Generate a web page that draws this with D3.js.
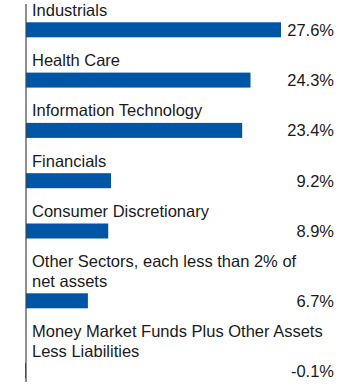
<!DOCTYPE html>
<html>
<head>
<meta charset="utf-8">
<script src="https://cdn.jsdelivr.net/npm/d3@7"></script>
<style>
  html, body { margin: 0; padding: 0; background: #fff; }
  svg { display: block; }
  text { font-family: "Liberation Sans", Arial, sans-serif; font-size: 16.5px; fill: #1a1a1a; }
</style>
</head>
<body>
<svg id="chart" width="360" height="386"></svg>
<script>
const categories = [
  ["Industrials"],
  ["Health Care"],
  ["Information Technology"],
  ["Financials"],
  ["Consumer Discretionary"],
  ["Other Sectors, each less than 2% of", "net assets"],
  ["Money Market Funds Plus Other Assets", "Less Liabilities"]
];
const values = [27.6, 24.3, 23.4, 9.2, 8.9, 6.7, -0.1];
const valueLabels = ["27.6%", "24.3%", "23.4%", "9.2%", "8.9%", "6.7%", "-0.1%"];

const W = 360, H = 386;
const x0 = 26, xMaxPx = 281;
const barH = 15, pitch = 50.3, lineH = 19.5;
const firstBarTop = 22.3;
const labelX = 32, valueX = 334;

const svg = d3.select("#chart");
const x = d3.scaleLinear().domain([0, d3.max(values)]).range([x0, xMaxPx]);

// compute vertical layout from number of label lines
const tops = [];
let t = firstBarTop;
categories.forEach((c, i) => {
  if (i > 0) t += pitch + (c.length - 1) * lineH;
  tops.push(t);
});

const g = svg.append("g");

// bars
g.selectAll("rect.bar").data(values).join("rect")
  .attr("class", "bar")
  .attr("x", d => Math.min(x(0), x(d)))
  .attr("width", d => Math.abs(x(d) - x(0)))
  .attr("y", (d, i) => tops[i])
  .attr("height", barH)
  .attr("fill", "#0056A6");

// category labels
categories.forEach((lines, i) => {
  const n = lines.length;
  lines.forEach((ln, j) => {
    g.append("text")
      .attr("x", labelX)
      .attr("y", tops[i] - 6.5 - (n - 1 - j) * lineH)
      .text(ln);
  });
});

// value labels
g.selectAll("text.val").data(valueLabels).join("text")
  .attr("class", "val")
  .attr("x", valueX)
  .attr("y", (d, i) => tops[i] + barH / 2)
  .attr("dy", "0.36em")
  .attr("text-anchor", "end")
  .text(d => d);

// axis line at zero
svg.append("line")
  .attr("x1", x(0)).attr("x2", x(0))
  .attr("y1", 4).attr("y2", 382)
  .attr("stroke", "#444").attr("stroke-width", 1.2);
</script>
</body>
</html>
